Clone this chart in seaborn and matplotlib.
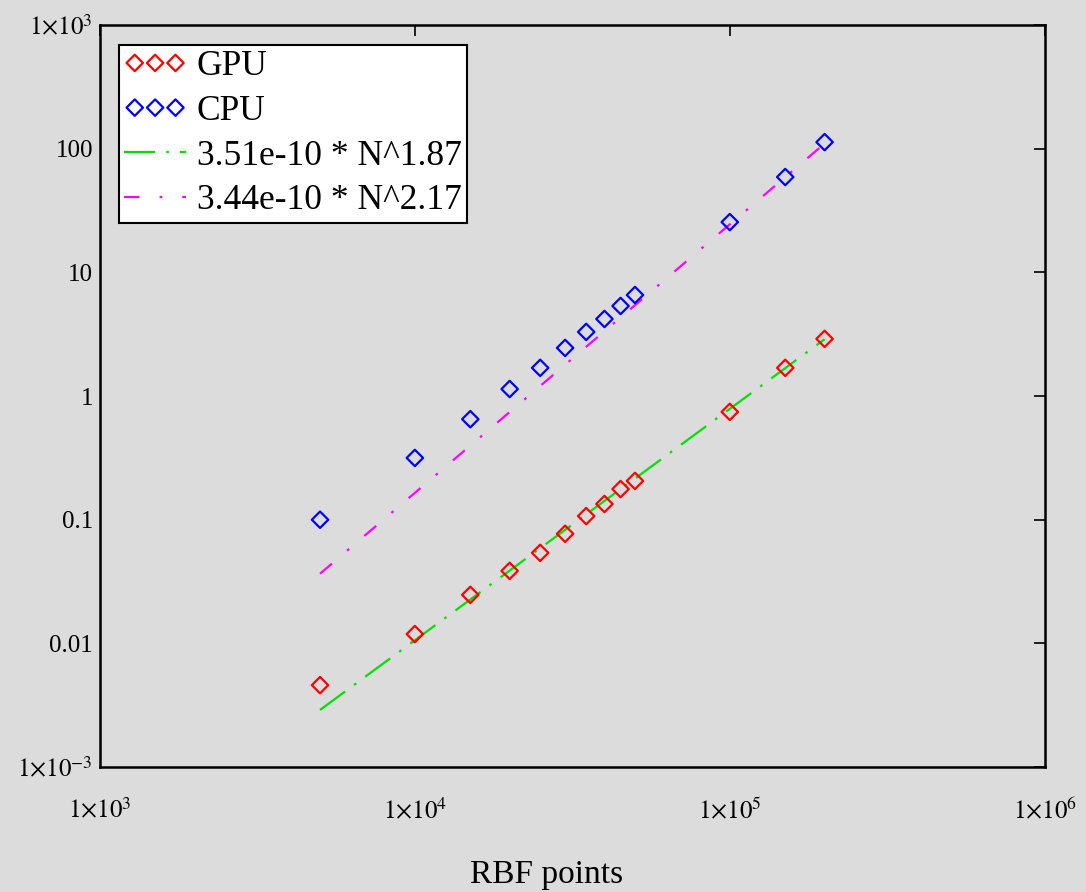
import numpy as np
import pandas as pd
import matplotlib
matplotlib.use("Agg")
import matplotlib.pyplot as plt
import matplotlib.ticker as mticker
import seaborn as sns

# dados (tempo x numero de pontos RBF)
n_points = [5000, 10000, 15000, 20000, 25000, 30000, 35000, 40000, 45000, 50000,
            100000, 150000, 200000]
gpu_time = [0.0046, 0.0119, 0.0247, 0.0386, 0.054, 0.077, 0.107, 0.134, 0.177, 0.206,
            0.745, 1.69, 2.9]
cpu_time = [0.100, 0.316, 0.65, 1.14, 1.69, 2.45, 3.3, 4.2, 5.35, 6.56,
            25.5, 59.0, 113.0]

# ajustes (extremos)
fit_n = [5000, 200000]
fit_gpu = [0.0029, 2.88]
fit_cpu = [0.0366, 110.0]
fit_gpu_label = "3.51e-10 * N^1.87"
fit_cpu_label = "3.44e-10 * N^2.17"

x_ticks = [1e3, 1e4, 1e5, 1e6]
y_ticks = [1e-3, 1e-2, 1e-1, 1, 10, 100, 1e3]
y_tick_labels = [r"$1{\times}10^{-3}$", "0.01", "0.1", "1", "10", "100", r"$1{\times}10^{3}$"]
x_tick_labels = [r"$1{\times}10^{3}$", r"$1{\times}10^{4}$", r"$1{\times}10^{5}$", r"$1{\times}10^{6}$"]

bg = "#dcdcdc"
sns.set_style("white")
plt.rcParams["font.family"] = ["Liberation Serif", "DejaVu Serif"]
plt.rcParams["mathtext.fontset"] = "stix"
plt.rcParams["text.color"] = "black"

df = pd.DataFrame({"N": n_points, "GPU": gpu_time, "CPU": cpu_time})
fit = pd.DataFrame({"N": fit_n, "g": fit_gpu, "c": fit_cpu})

fig = plt.figure(figsize=(10.86, 8.92), dpi=100, facecolor=bg)
ax = fig.add_axes([0.092, 0.140, 0.870, 0.832])
ax.set_facecolor(bg)

sns.scatterplot(data=df, x="N", y="GPU", ax=ax, marker="D", s=70, facecolor="none",
                edgecolor="red", linewidth=1.6, label="GPU", zorder=3)
sns.scatterplot(data=df, x="N", y="CPU", ax=ax, marker="D", s=70, facecolor="none",
                edgecolor="blue", linewidth=1.6, label="CPU", zorder=3)
sns.lineplot(data=fit, x="N", y="g", ax=ax, color="#00e000", linewidth=1.6,
             label=fit_gpu_label, zorder=2)
sns.lineplot(data=fit, x="N", y="c", ax=ax, color="magenta", linewidth=1.6,
             label=fit_cpu_label, zorder=2)
ax.lines[0].set_dashes([14, 5, 1.2, 5])
ax.lines[1].set_dashes([7, 9, 1.2, 9])

ax.set_xscale("log")
ax.set_yscale("log")
ax.set_xlim(1e3, 1e6)
ax.set_ylim(1e-3, 1e3)
ax.xaxis.set_major_locator(mticker.FixedLocator(x_ticks))
ax.yaxis.set_major_locator(mticker.FixedLocator(y_ticks))
ax.xaxis.set_minor_locator(mticker.NullLocator())
ax.yaxis.set_minor_locator(mticker.NullLocator())
ax.set_xticklabels(x_tick_labels)
ax.set_yticklabels(y_tick_labels)
ax.tick_params(axis="both", which="major", direction="in", length=8, width=1.2,
               top=True, right=True, labelsize=18, color="black", labelcolor="black")
ax.tick_params(axis="x", pad=22)
ax.tick_params(axis="y", pad=5)
for sp in ax.spines.values():
    sp.set_color("black")
    sp.set_linewidth(1.8)
ax.set_xlabel("")
ax.set_ylabel("")

leg = ax.legend(loc="upper left", bbox_to_anchor=(0.02, 0.973), borderaxespad=0,
                fontsize=25.5, frameon=True, fancybox=False, edgecolor="black",
                facecolor="white", framealpha=1, scatterpoints=3, scatteryoffsets=[0.5],
                handlelength=1.75, handletextpad=0.3, labelspacing=0.33, borderpad=0.15)
leg.get_frame().set_linewidth(1.5)
for t in leg.get_texts():
    t.set_color("black")

fig.text(0.503, 0.002, "RBF points", ha="center", va="bottom", fontsize=24)

fig.savefig("out.png", dpi=100, facecolor=bg)
